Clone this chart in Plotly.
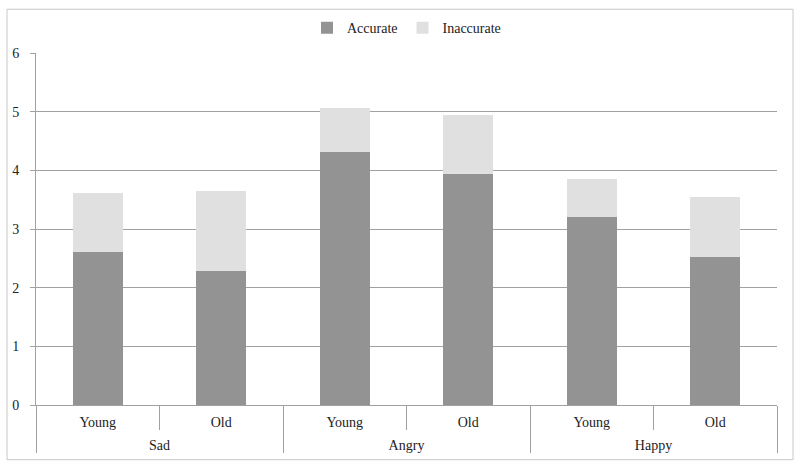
import plotly.graph_objects as go

emotions = ["Sad", "Sad", "Angry", "Angry", "Happy", "Happy"]
ages = ["Young", "Old", "Young", "Old", "Young", "Old"]
accurate = [2.60, 2.28, 4.31, 3.94, 3.21, 2.53]
inaccurate = [1.01, 1.36, 0.76, 1.00, 0.65, 1.02]
y_ticks = [0, 1, 2, 3, 4, 5, 6]

FONT = "Liberation Serif"
LBL = "<span style='font-size:14px'>{}</span>"
# outer-level labels get small blank leading lines to push them lower
group_labels = ["<br><br>" + LBL.format(e) for e in emotions]
age_labels = [LBL.format(a) for a in ages]

fig = go.Figure()
fig.add_trace(go.Bar(x=[group_labels, age_labels], y=accurate, name="Accurate",
                     marker=dict(color="#939393", line=dict(width=0))))
fig.add_trace(go.Bar(x=[group_labels, age_labels], y=inaccurate, name="Inaccurate",
                     marker=dict(color="#e0e0e0", line=dict(width=0))))

W, H = 800, 468
L, R, T, B = 36, 23, 51, 63
pw, ph = W - L - R, H - T - B

def px(x):
    return (x - L) / pw

def py(y):
    return (H - B - y) / ph

fig.update_layout(
    width=W, height=H,
    barmode="stack", bargap=0.595,
    plot_bgcolor="white", paper_bgcolor="white",
    margin=dict(l=L, r=R, t=T, b=B, pad=0),
    font=dict(family=FONT, size=14, color="#222222"),
    showlegend=True,
    legend=dict(orientation="h", x=0.5, xanchor="center", y=py(26), yanchor="middle",
                font=dict(family=FONT, size=14), itemwidth=30, traceorder="normal"),
    xaxis=dict(type="multicategory", showline=True, linecolor="#a0a0a0", linewidth=1,
               ticks="outside", ticklen=24, tickcolor="#a0a0a0",
               showdividers=True, dividercolor="#a0a0a0", dividerwidth=1,
               ticklabelstandoff=13, automargin=False,
               tickfont=dict(family=FONT, size=7, color="#222222")),
    yaxis=dict(range=[0, 6], tickvals=y_ticks, showgrid=True, gridcolor="#a0a0a0",
               gridwidth=1, showline=True, linecolor="#a0a0a0", ticks="outside",
               ticklen=5, tickcolor="#a0a0a0", zeroline=False, automargin=False,
               ticklabelstandoff=8,
               tickfont=dict(family=FONT, size=14, color="#222222")),
    shapes=[dict(type="rect", xref="paper", yref="paper",
                 x0=px(7), x1=px(793), y0=py(460), y1=py(7),
                 line=dict(color="#c8c8c8", width=1), fillcolor="rgba(0,0,0,0)")],
)

fig.write_html("out.html", config={"displayModeBar": False},
               post_script="document.body.style.margin='0';")
